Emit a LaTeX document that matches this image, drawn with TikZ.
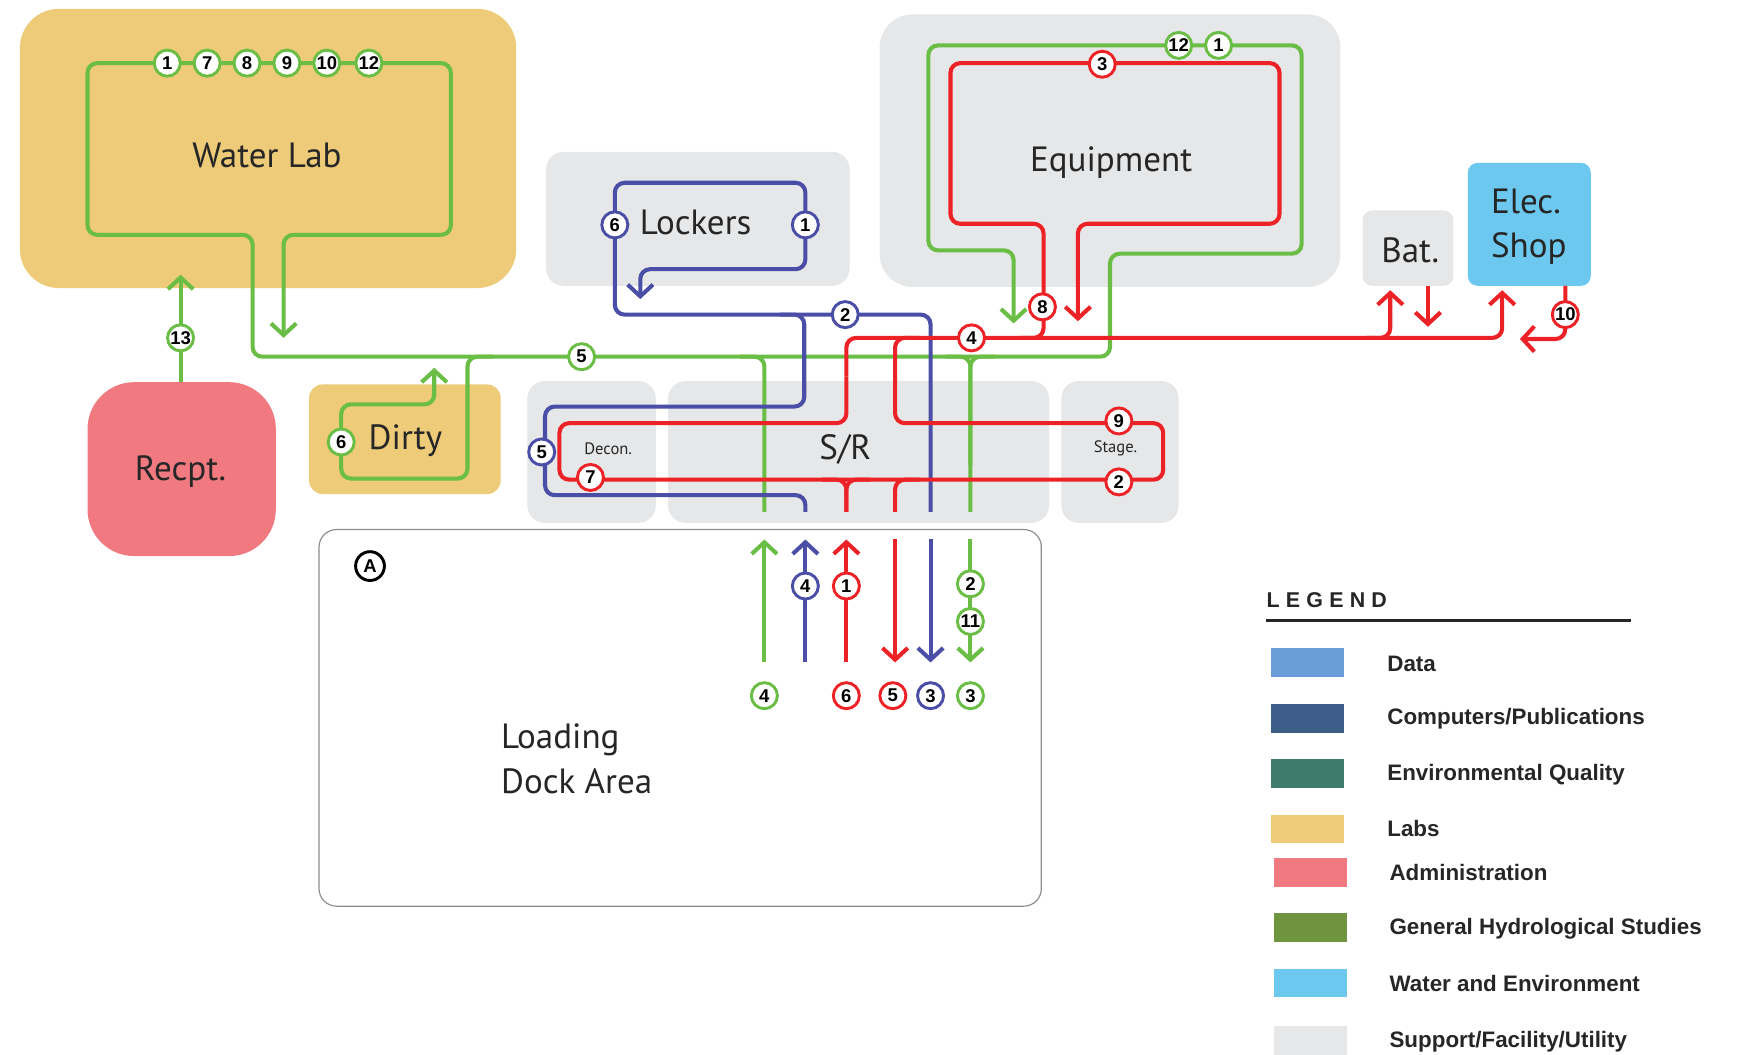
\documentclass[tikz,border=0pt]{standalone}
\usepackage{fontspec}
\setmainfont{PT Sans}
\newfontfamily\arialf{Liberation Sans}
\usetikzlibrary{arrows.meta}
\definecolor{gr}{HTML}{6ABD45}
\definecolor{rd}{HTML}{EC2227}
\definecolor{bl}{HTML}{4B4EA6}
\definecolor{labc}{HTML}{EDCB78}
\definecolor{admc}{HTML}{F07A80}
\definecolor{supc}{HTML}{E6E7E8}
\definecolor{wec}{HTML}{6CC8EE}
\definecolor{datac}{HTML}{6A9ED8}
\definecolor{compc}{HTML}{3D5E89}
\definecolor{envc}{HTML}{3F7A6E}
\definecolor{ghsc}{HTML}{6F943F}
\begin{document}
\begin{tikzpicture}[x=0.02cm,y=-0.02cm,
  lbl/.style={font=\fontsize{18}{22.7}\selectfont, text=black!85, inner sep=0pt},
  slbl/.style={font=\fontsize{8.5}{10}\selectfont, text=black!85, inner sep=0pt},
  route/.style={line width=2.1pt, rounded corners=5pt},
  gline/.style={route, draw=gr},
  rline/.style={route, draw=rd},
  bline/.style={route, draw=bl},
  tip/.style={-{Straight Barb[length=6pt,width=13pt]}},
  num/.style={circle, draw=#1, fill=white, line width=1.5pt, minimum size=0.47cm, inner sep=0pt, font=\arialf\bfseries\fontsize{9.5}{9.5}\selectfont},
  swatch/.style={minimum width=1.32cm, minimum height=0.52cm, inner sep=0pt, anchor=north west},
  legtxt/.style={font=\arialf\bfseries\fontsize{11.5}{12}\selectfont, text=black!85, anchor=west, inner sep=0pt},
]
\useasboundingbox (0,0) rectangle (1568,952);
% ---------------- rooms ----------------
\fill[labc, rounded corners=20pt] (18,8) rectangle (466,260);
\fill[admc, rounded corners=24pt] (79,345) rectangle (249,502);
\fill[labc, rounded corners=7pt] (279,347) rectangle (452,446);
\fill[supc, rounded corners=9pt] (493,137) rectangle (767,258);
\fill[supc, rounded corners=17pt] (794,13) rectangle (1210,259);
\fill[supc, rounded corners=5pt] (1230,190) rectangle (1312,258);
\fill[wec, rounded corners=5pt] (1325,147) rectangle (1436,258);
\fill[supc, rounded corners=9pt] (476,344) rectangle (592,472);
\fill[supc, rounded corners=9pt] (603,344) rectangle (947,472);
\fill[supc, rounded corners=9pt] (958,344) rectangle (1064,472);
\draw[black!45, line width=0.6pt, rounded corners=9pt] (288,478) rectangle (940,818);

\node[lbl] (waterlab) at (241,140) {Water Lab};
\node[lbl] (recpt) at (163,426) {Recpt.};
\node[lbl] (dirty) at (366,398) {Dirty};
\node[lbl] (lockers) at (628,201) {Lockers};
\node[lbl] (equip) at (1003,147) {Equipment};
\node[lbl] (bat) at (1273,226) {Bat.};
\node[lbl, align=left] (elec) at (1380,205) {Elec.\\Shop};
\node[slbl] (decon) at (549,405) {Decon.};
\node[lbl] (sr) at (763,406) {S/R};
\node[slbl] (stage) at (1007,405) {Stage.};
\node[lbl, align=left, anchor=west] (dock) at (452,685) {Loading\\Dock Area};
\node[circle, draw=black, line width=1.5pt, minimum size=0.52cm, inner sep=0pt, font=\arialf\bfseries\fontsize{9.5}{9.5}\selectfont] (markA) at (334,511) {A};

% ---------------- green routes ----------------
\draw[gline, tip] (79,150) -- (79,212) -- (228,212) -- (228,322) -- (1002,322) -- (1002,229) -- (1175,229) -- (1175,41) -- (838,41) -- (838,226) -- (915,226) -- (915,292);
\draw[gline, tip] (79,150) -- (79,57) -- (407,57) -- (407,212) -- (256,212) -- (256,305);
\draw[gline, tip] (163,345) -- (163,248);
\draw[gline, tip] (445,322) -- (422,322) -- (422,432) -- (308,432) -- (308,365) -- (392,365) -- (392,332);
\draw[gline] (668,322) -- (690,322) -- (690,462);
\draw[gline] (854,322) -- (876,322) -- (876,420);
\draw[gline] (898,322) -- (876,322) -- (876,462);
\draw[gline, tip] (690,598) -- (690,487);
\draw[gline, tip] (876,487) -- (876,598);

% ---------------- blue routes ----------------
\draw[bline, tip] (555,250) -- (555,165) -- (727,165) -- (727,243) -- (578,243) -- (578,270);
\draw[bline] (555,250) -- (555,284) -- (840,284) -- (840,462);
\draw[bline] (704,284) -- (726,284) -- (726,367) -- (492,367) -- (492,447) -- (727,447) -- (727,462);
\draw[bline, tip] (727,598) -- (727,487);
\draw[bline, tip] (840,487) -- (840,598);

% ---------------- red routes ----------------
\draw[rline] (858,150) -- (858,202) -- (942,202) -- (942,305) -- (920,305);
\draw[rline, tip] (858,150) -- (858,57) -- (1155,57) -- (1155,202) -- (973,202) -- (973,290);
\draw[rline, tip] (764,340) -- (764,305) -- (1356,305) -- (1356,262);
\draw[rline] (764,340) -- (764,382) -- (505,382) -- (505,433) -- (1050,433) -- (1050,382) -- (808,382) -- (808,305) -- (830,305);
\draw[rline] (742,433) -- (764,433) -- (764,462);
\draw[rline] (786,433) -- (764,433) -- (764,462);
\draw[rline] (830,433) -- (808,433) -- (808,462);
\draw[rline, tip] (1233,305) -- (1255,305) -- (1255,262);
\draw[rline, tip] (1289,258) -- (1289,295);
\draw[rline, tip] (1413,258) -- (1413,306) -- (1372,306);
\draw[rline, tip] (764,598) -- (764,487);
\draw[rline, tip] (808,487) -- (808,598);

% ---------------- number markers ----------------
\node[num=gr] (g1) at (151,57) {1};
\node[num=gr] (g7) at (187,57) {7};
\node[num=gr] (g8) at (223,57) {8};
\node[num=gr] (g9) at (259,57) {9};
\node[num=gr] (g10) at (295,57) {10};
\node[num=gr] (g12) at (333,57) {12};
\node[num=gr] (g13) at (163,305) {13};
\node[num=gr] (g5) at (525,322) {5};
\node[num=gr] (g6) at (308,399) {6};
\node[num=gr] (ge12) at (1064,41) {12};
\node[num=gr] (ge1) at (1100,41) {1};
\node[num=gr] (g2) at (876,527) {2};
\node[num=gr] (g11) at (876,561) {11};
\node[num=gr] (g4) at (690,628) {4};
\node[num=gr] (g3) at (876,628) {3};

\node[num=bl] (b6) at (555,203) {6};
\node[num=bl] (b1) at (727,203) {1};
\node[num=bl] (b2) at (763,284) {2};
\node[num=bl] (b5) at (489,408) {5};
\node[num=bl] (b4) at (727,529) {4};
\node[num=bl] (b3) at (840,628) {3};

\node[num=rd] (r3) at (995,58) {3};
\node[num=rd] (r8) at (941,277) {8};
\node[num=rd] (r4) at (877,305) {4};
\node[num=rd] (r10) at (1413,284) {10};
\node[num=rd] (r7) at (533,431) {7};
\node[num=rd] (r9) at (1010,380) {9};
\node[num=rd] (r2) at (1010,435) {2};
\node[num=rd] (r1) at (764,529) {1};
\node[num=rd] (r6) at (764,628) {6};
\node[num=rd] (r5) at (806,628) {5};

% ---------------- legend ----------------
\node[font=\arialf\bfseries\fontsize{11}{12}\selectfont, anchor=west, inner sep=0pt, text=black!85] (legtitle) at (1143,542) {L\kern3.2pt E\kern3.2pt G\kern3.2pt E\kern3.2pt N\kern3.2pt D};
\draw[black!85, line width=1.3pt] (1143,560) -- (1472,560);
\node[swatch, fill=datac] (s1) at (1147,585) {};
\node[swatch, fill=compc] (s2) at (1147,635) {};
\node[swatch, fill=envc] (s3) at (1147,685) {};
\node[swatch, fill=labc] (s4) at (1147,735) {};
\node[swatch, fill=admc] (s5) at (1150,774) {};
\node[swatch, fill=ghsc] (s6) at (1150,824) {};
\node[swatch, fill=wec] (s7) at (1150,874) {};
\node[swatch, fill=supc] (s8) at (1150,926) {};
\node[legtxt] (t1) at (1252,599) {Data};
\node[legtxt] (t2) at (1252,649) {Computers/Publications};
\node[legtxt] (t3) at (1252,699) {Environmental Quality};
\node[legtxt] (t4) at (1252,748) {Labs};
\node[legtxt] (t5) at (1254,788) {Administration};
\node[legtxt] (t6) at (1254,838) {General Hydrological Studies};
\node[legtxt] (t7) at (1254,888) {Water and Environment};
\node[legtxt] (t8) at (1254,940) {Support/Facility/Utility};
\end{tikzpicture}
\end{document}
